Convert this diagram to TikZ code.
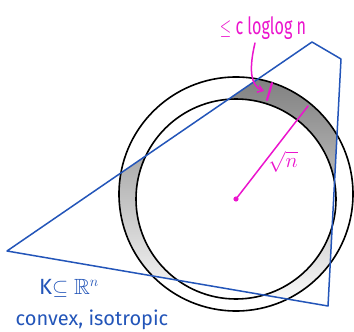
\documentclass[tikz,border=0pt]{standalone}
\usepackage{amssymb}
\usepackage{fontspec}
\setmainfont{Fira Sans}
\usetikzlibrary{arrows.meta}
\definecolor{kblue}{RGB}{35,85,185}
\definecolor{mag}{RGB}{235,20,205}
\definecolor{shade}{RGB}{175,175,175}
\tikzset{
  ring/.style={draw=black,line width=1.6pt},
  kline/.style={draw=kblue,line width=1.5pt,line join=round},
  pink/.style={draw=mag,line width=1.5pt,line cap=round},
  lbl/.style={inner sep=0pt,text=kblue},
  plbl/.style={inner sep=0pt,text=mag}
}
\begin{document}
\begin{tikzpicture}[x=1pt,y=-1pt]
\useasboundingbox (0,0) rectangle (354,332);
\coordinate (A) at (7,251);
\coordinate (B) at (312,42);
\coordinate (C) at (341,59);
\coordinate (D) at (328,306);
\coordinate (O) at (236,199);
\coordinate (P) at (236,194);
\coordinate (E) at (308,106);
% shaded part of annulus inside K
\fill[shade,even odd rule] (P) circle[radius=117] (O) circle[radius=100];
\fill[white,even odd rule] (0,0) rectangle (354,332) (A) -- (B) -- (C) -- (D) -- cycle;
\draw[ring] (P) circle[radius=117];
\draw[ring] (O) circle[radius=100];
\draw[kline] (A) -- (B) -- (C) -- (D) -- cycle;
% radius
\fill[mag] (O) circle[radius=2.6];
\draw[pink] (O) -- (E);
\node[plbl] (sqrtn) at (283,162) {\fontsize{20}{20}\selectfont$\sqrt{n}$};
% bound label and arrow
\node[plbl] (bound) at (263,28) {\scalebox{0.85}[1.25]{\fontsize{19}{19}\selectfont$\leq$ c loglog n}};
\coordinate (T1) at (272,83);
\coordinate (T2) at (267,100);
\draw[pink,line width=2.2pt] (T1) -- (T2);
\coordinate (S0) at (255,43);
\coordinate (H) at (264,91);
\draw[pink,-{Straight Barb[length=5pt,width=7pt]}] (S0) .. controls (249,68) and (250,86) .. (H);
% K labels
\node[lbl] (kset) at (69,288) {\fontsize{22}{22}\selectfont K$\subseteq\mathbb{R}^n$};
\node[lbl] (conv) at (92,320) {\fontsize{20}{20}\selectfont convex, isotropic};
\end{tikzpicture}
\end{document}
